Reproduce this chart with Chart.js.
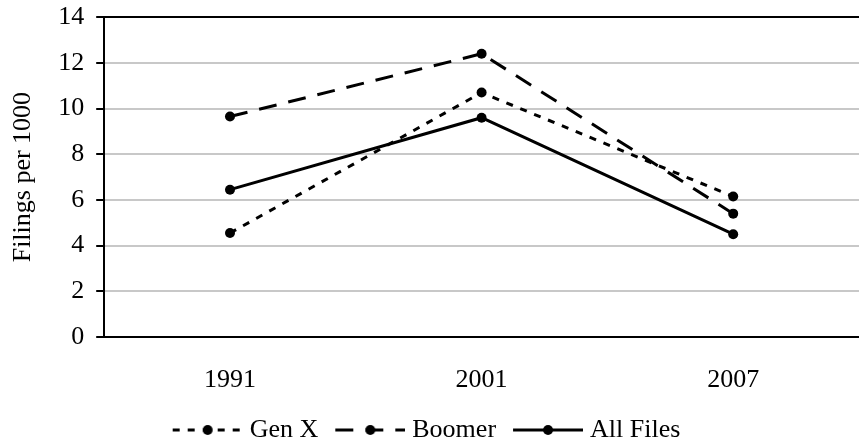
<!DOCTYPE html>
<html>
<head>
<meta charset="utf-8">
<script src="https://cdn.jsdelivr.net/npm/chart.js@4"></script>
<style>
    html, body { margin: 0; padding: 0; background: #fff; overflow: hidden; }
    #wrap { width: 859px; height: 445px; }
</style>
</head>
<body>
<div id="wrap"><canvas id="chart"></canvas></div>
<script>
// data
const years = ['1991', '2001', '2007'];
const genX = [4.55, 10.7, 6.15];
const boomer = [9.65, 12.4, 5.4];
const allFiles = [6.45, 9.6, 4.5];
const seriesNames = ['Gen X', 'Boomer', 'All Files'];
const yTicks = [0, 2, 4, 6, 8, 10, 12, 14];

const dashGenX = [7, 8];
const dashBoomer = [18, 12];

Chart.defaults.font.family = "'Liberation Serif', 'Times New Roman', serif";
Chart.defaults.font.size = 26;
Chart.defaults.color = '#000';

// line+dot symbol for the legend; drawn off-centre so it sits close to its text
function legendSample(dash) {
    const c = document.createElement('canvas');
    c.width = 83;
    c.height = 12;
    const g = c.getContext('2d');
    g.strokeStyle = '#000';
    g.lineWidth = 3;
    g.setLineDash(dash);
    g.beginPath();
    g.moveTo(13, 6);
    g.lineTo(83, 6);
    g.stroke();
    g.setLineDash([]);
    g.fillStyle = '#000';
    g.beginPath();
    g.arc(48, 6, 5, 0, Math.PI * 2);
    g.fill();
    return c;
}

function makeSeries(label, values, dash) {
    return {
        label: label,
        data: values,
        borderColor: '#000',
        backgroundColor: '#000',
        borderWidth: 3,
        borderDash: dash,
        pointRadius: 5,
        pointHoverRadius: 5,
        pointBackgroundColor: '#000',
        pointBorderWidth: 0,
        tension: 0,
        fill: false
    };
}

const samples = [legendSample(dashGenX), legendSample(dashBoomer), legendSample([])];

// the legend gets a thin slot in the layout, then is moved a bit up/left
// (its box is grown back to the canvas bottom so the clip does not cut it)
const legendNudge = {
    id: 'legendNudge',
    afterLayout(chart) {
        const lg = chart.legend;
        lg.left -= 12;
        lg.right -= 12;
        lg.top -= 16;
        lg.bottom = chart.height;
        lg.height = lg.bottom - lg.top;
    }
};

const ctx = document.getElementById('chart').getContext('2d');
new Chart(ctx, {
    type: 'line',
    data: {
        labels: years,
        datasets: [
            makeSeries(seriesNames[0], genX, dashGenX),
            makeSeries(seriesNames[1], boomer, dashBoomer),
            makeSeries(seriesNames[2], allFiles, [])
        ]
    },
    plugins: [legendNudge],
    options: {
        responsive: true,
        maintainAspectRatio: false,
        animation: false,
        layout: { autoPadding: false, padding: { top: 7, left: 8, right: -3, bottom: 0 } },
        plugins: {
            tooltip: { enabled: false },
            legend: {
                position: 'bottom',
                maxHeight: 22,
                labels: {
                    usePointStyle: true,
                    pointStyleWidth: 71,
                    padding: 10,
                    font: { size: 26 },
                    generateLabels: function(chart) {
                        const items = Chart.defaults.plugins.legend.labels.generateLabels(chart);
                        items.forEach((item, i) => { item.pointStyle = samples[i]; item.rotation = 0; });
                        return items;
                    }
                }
            }
        },
        scales: {
            x: {
                offset: true,
                grid: { display: false, drawTicks: false },
                border: { display: true, color: '#000', width: 2 },
                ticks: { padding: 27.4 }
            },
            y: {
                min: yTicks[0],
                max: yTicks[yTicks.length - 1],
                title: {
                    display: true,
                    text: 'Filings per 1000',
                    padding: { top: 0, bottom: 7 }
                },
                ticks: { stepSize: yTicks[1] - yTicks[0], padding: 12, font: { size: 26, lineHeight: 0.4 } },
                grid: {
                    color: c => (c.tick && c.tick.value === yTicks[yTicks.length - 1]) ? '#000' : '#c8c8c8',
                    lineWidth: 2,
                    tickLength: 8,
                    tickColor: '#000'
                },
                border: { display: true, color: '#000', width: 2 }
            }
        }
    }
});
</script>
</body>
</html>
